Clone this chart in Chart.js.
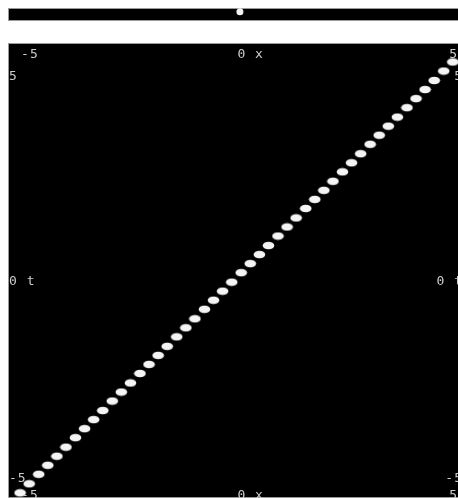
<!DOCTYPE html>
<html><head><meta charset="utf-8">
<script src="https://cdn.jsdelivr.net/npm/chart.js@4/dist/chart.umd.min.js"></script>
<style>
html,body{margin:0;padding:0;background:#fff;width:458px;height:498px;overflow:hidden;}
#bar{position:absolute;left:8px;top:8px;}
#main{position:absolute;left:8px;top:43px;}
</style></head><body>
<canvas id="bar" width="450" height="13"></canvas>
<canvas id="main" width="450" height="455"></canvas>
<script>
// sampled parameter t and the plotted x(t) = t
const tValues = [-5.00,-4.79,-4.57,-4.36,-4.15,-3.94,-3.72,-3.51,-3.30,-3.09,-2.87,-2.66,-2.45,-2.23,-2.02,-1.81,-1.60,-1.38,-1.17,-0.96,-0.74,-0.53,-0.32,-0.11,
                 0.11,0.32,0.53,0.74,0.96,1.17,1.38,1.60,1.81,2.02,2.23,2.45,2.66,2.87,3.09,3.30,3.51,3.72,3.94,4.15,4.36,4.57,4.79,5.00];
const xValues = [-5.00,-4.79,-4.57,-4.36,-4.15,-3.94,-3.72,-3.51,-3.30,-3.09,-2.87,-2.66,-2.45,-2.23,-2.02,-1.81,-1.60,-1.38,-1.17,-0.96,-0.74,-0.53,-0.32,-0.11,
                 0.11,0.32,0.53,0.74,0.96,1.17,1.38,1.60,1.81,2.02,2.23,2.45,2.66,2.87,3.09,3.30,3.51,3.72,3.94,4.15,4.36,4.57,4.79,5.00];
// slider (top strip) current x value
const sliderX = [0.08];
// axis labels
const xTickValues = [-5, 0, 5];
const xTickLabels = ['-5', '0 x', '5'];
const tTickValues = [5, 0, -5];
const tTickLabels = ['5', '0 t', '-5'];

// ellipse marker
const dot = document.createElement('canvas');
dot.width = 13; dot.height = 9;
(function(){
  const c = dot.getContext('2d');
  c.filter = 'blur(0.4px)';
  c.fillStyle = '#f4f4f4';
  c.beginPath();
  c.ellipse(6.5, 4.5, 5.8, 3.8, 0, 0, Math.PI*2);
  c.fill();
})();

const panelBg = {
  id: 'panelBg',
  beforeDraw(chart) {
    const {ctx, width, height} = chart;
    ctx.save();
    ctx.fillStyle = '#000';
    ctx.fillRect(0, 0, width, height);
    ctx.strokeStyle = '#9a9a9a';
    ctx.lineWidth = 1;
    ctx.strokeRect(0.5, 0.5, width - 1 + 2, height - 1);
    ctx.restore();
  }
};

const labelPlugin = {
  id: 'axisLabels',
  afterDatasetsDraw(chart) {
    const {ctx, chartArea: a, scales: {x, y}} = chart;
    ctx.save();
    ctx.font = '13px "DejaVu Sans Mono"';
    ctx.letterSpacing = '1px';
    ctx.fillStyle = '#cccccc';
    ctx.textBaseline = 'top';
    xTickValues.forEach((v, i) => {
      const t = xTickLabels[i];
      ctx.textAlign = 'left';
      const w = ctx.measureText(t).width;
      let px = x.getPixelForValue(v) + 1;
      px = Math.min(px, a.right - w);
      ctx.fillText(t, px, a.top + 5);
      ctx.fillText(t, px, a.bottom - 9);
    });
    tTickValues.forEach((v, i) => {
      const t = tTickLabels[i];
      let py = y.getPixelForValue(v) - 2;
      py = Math.max(a.top + 27, Math.min(a.bottom - 26, py));
      ctx.textAlign = 'left';
      ctx.fillText(t, a.left + 1, py);
      ctx.textAlign = 'right';
      ctx.fillText(t, a.right + 5, py);
    });
    ctx.restore();
  }
};

const xScale = {type: 'linear', min: -5.28, max: 5.12, display: false};

new Chart(document.getElementById('main'), {
  type: 'scatter',
  data: {
    datasets: [{
      data: xValues.map((xv, i) => ({x: xv, y: tValues[i]})),
      pointStyle: dot,
      pointRadius: 6,
      pointHoverRadius: 6,
      clip: false
    }]
  },
  options: {
    responsive: false,
    animation: false,
    events: [],
    layout: {padding: 0, autoPadding: false},
    plugins: {legend: {display: false}, tooltip: {enabled: false}},
    scales: {
      x: xScale,
      y: {type: 'linear', min: -5.12, max: 5.44, display: false}
    }
  },
  plugins: [panelBg, labelPlugin]
});

new Chart(document.getElementById('bar'), {
  type: 'scatter',
  data: {
    datasets: [{
      data: sliderX.map(v => ({x: v, y: 0})),
      pointStyle: 'circle',
      pointRadius: 3.5,
      backgroundColor: '#f2f2f2',
      borderColor: '#f2f2f2',
      borderWidth: 0,
      clip: false
    }]
  },
  options: {
    responsive: false,
    animation: false,
    events: [],
    layout: {padding: 0, autoPadding: false},
    plugins: {legend: {display: false}, tooltip: {enabled: false}},
    scales: {
      x: xScale,
      y: {type: 'linear', min: -2.5, max: 1, display: false}
    }
  },
  plugins: [panelBg]
});
</script>
</body></html>
